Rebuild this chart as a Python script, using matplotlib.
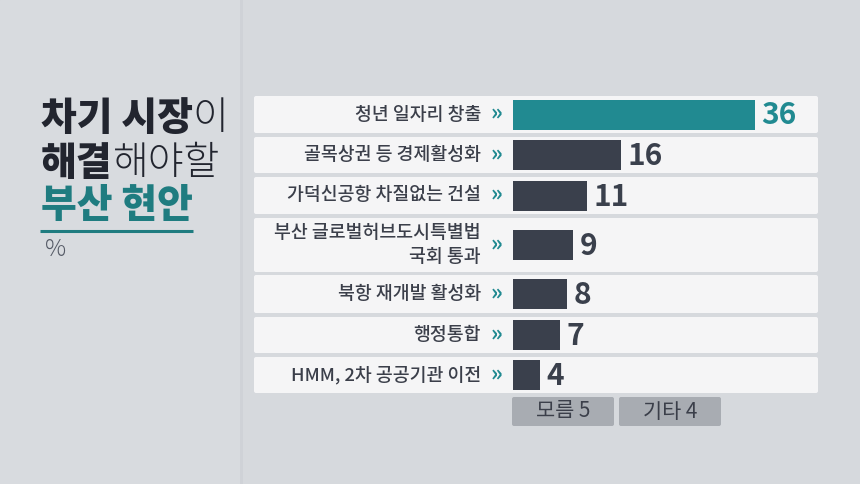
import matplotlib
matplotlib.use("Agg")
import matplotlib.pyplot as plt
from matplotlib.patches import FancyBboxPatch, Rectangle

FAM = ['Noto Sans CJK JP', 'Noto Sans CJK KR', 'DejaVu Sans']
plt.rcParams['font.family'] = FAM

# ---- data ----
categories = ["청년 일자리 창출", "골목상권 등 경제활성화", "가덕신공항 차질없는 건설",
              "부산 글로벌허브도시특별법\n국회 통과", "북항 재개발 활성화", "행정통합",
              "HMM, 2차 공공기관 이전"]
values = [36, 16, 11, 9, 8, 7, 4]
other_labels = ["모름", "기타"]
other_values = [5, 4]
title_lines = [[("차기 시장", "bold"), ("이", "light")],
               [("해결", "bold"), ("해야할", "light")],
               [("부산 현안", "bold")]]
unit_label = "%"

# ---- style ----
BG = "#d6d9dd"
PANEL = "#f5f5f6"
TEAL = "#218a91"
TEAL_TXT = "#1f7c80"
DARK = "#3a404c"
TXT = "#3b3f4a"
TITLE = "#22252f"
BOX = "#a8acb2"

W, H = 860, 484
fig = plt.figure(figsize=(W / 100, H / 100), dpi=100)
fig.patch.set_facecolor(BG)

bg = fig.add_axes([0, 0, 1, 1])
bg.set_xlim(0, W)
bg.set_ylim(H, 0)
bg.axis("off")

# left panel shade + subtle divider
bg.add_patch(Rectangle((0, 0), 240, H, color="#d8dbdf", zorder=0))
bg.plot([241, 241], [0, H], color="#cfd2d7", lw=2.0, zorder=1)

# row layout (pixel positions)
row_tops = [96, 137, 177, 218, 275, 317, 357]
row_bots = [133, 173, 214, 272, 313, 353, 393]
row_centers = [(a + b) / 2 for a, b in zip(row_tops, row_bots)]
panel_x0, panel_x1 = 254, 818

for t, b in zip(row_tops, row_bots):
    bg.add_patch(FancyBboxPatch((panel_x0, t), panel_x1 - panel_x0, b - t,
                                boxstyle="round,pad=0,rounding_size=2",
                                fc=PANEL, ec="none", zorder=2))

# category labels + chevrons
for lab, yc in zip(categories, row_centers):
    lines = lab.split("\n")
    n = len(lines)
    step = 23
    for i, ln in enumerate(lines):
        y = yc + (i - (n - 1) / 2) * step
        bg.text(481, y, ln, ha="right", va="center", fontsize=13.2,
                color=TXT, fontweight=500, zorder=5)
    bg.text(497, yc - 1, "»", ha="center", va="center", fontsize=16,
            color=TEAL, fontweight=700, zorder=5)

# bar axes: x in data units
px_per_unit = 6.72
bar_x0 = 513
ax = fig.add_axes([bar_x0 / W, 0, (panel_x1 - bar_x0) / W, 1])
ax.set_xlim(0, (panel_x1 - bar_x0) / px_per_unit)
ax.set_ylim(H, 0)
ax.axis("off")
ax.patch.set_alpha(0)
colors = [TEAL] + [DARK] * (len(values) - 1)
ax.barh(row_centers, values, height=30, color=colors, zorder=3)
for i, (v, yc) in enumerate(zip(values, row_centers)):
    ax.text(v + 1.0, yc + 1, str(v), ha="left", va="center", fontsize=21.5,
            fontweight=700, color=TEAL if i == 0 else DARK, zorder=5)

# bottom boxes (모름 / 기타)
box_x = [512, 619]
box_w = 102
for bx, lab, v in zip(box_x, other_labels, other_values):
    bg.add_patch(FancyBboxPatch((bx, 397), box_w, 29,
                                boxstyle="round,pad=0,rounding_size=2",
                                fc=BOX, ec="none", zorder=2))
    bg.text(bx + box_w / 2, 411.5, f"{lab} {v}", ha="center", va="center",
            fontsize=15, color=TXT, zorder=5)

# title with mixed weights
fig.canvas.draw()
renderer = fig.canvas.get_renderer()
line_y = [118, 163, 205]
for li, (parts, y) in enumerate(zip(title_lines, line_y)):
    x = 41
    for txt, wt in parts:
        col = TEAL_TXT if li == 2 else TITLE
        weight = 900 if wt == "bold" else 300
        t = bg.text(x, y, txt, ha="left", va="center", fontsize=28,
                    fontweight=weight, color=col, zorder=5)
        bb = t.get_window_extent(renderer=renderer)
        x += bb.width
    if li == 2:
        bg.plot([40, x], [230.5, 230.5], color=TEAL_TXT, lw=2.2, zorder=5,
                solid_capstyle="butt")

bg.text(45, 249, unit_label, ha="left", va="center", fontsize=17,
        fontweight=300, color="#555a66", zorder=5)

fig.savefig("out.png", dpi=100, facecolor=BG)
